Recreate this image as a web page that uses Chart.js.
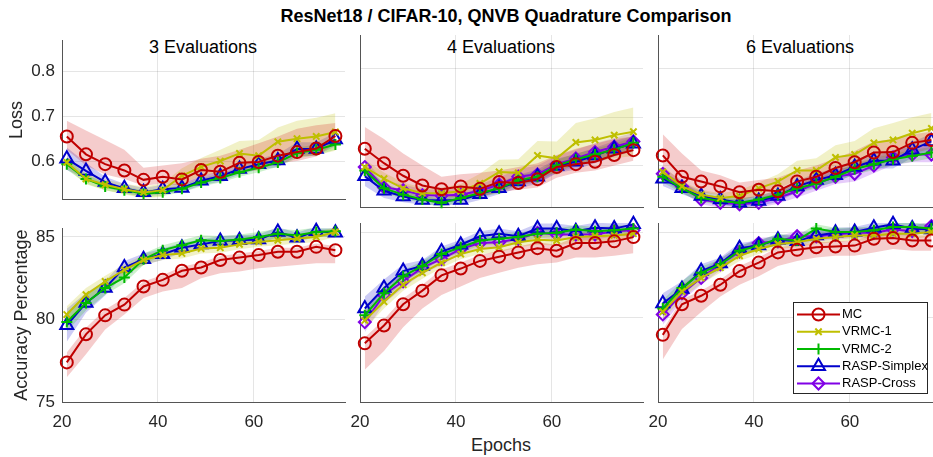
<!DOCTYPE html>
<html>
<head>
<style>
    body { margin: 0; width: 933px; height: 457px; overflow: hidden; background: #fff; position: relative; font-family: "Liberation Sans", Arial, sans-serif; }
    canvas { position: absolute; }
    .txt { position: absolute; white-space: nowrap; transform: translate(-50%, -50%); line-height: 1; color: #000; }
</style>
</head>
<body>
    <div class="txt" style="left:506px; top:16px; font-size:18px; font-weight:bold;">ResNet18 / CIFAR-10, QNVB Quadrature Comparison</div>
    <div class="txt" style="left:203px; top:47px; font-size:18px;">3 Evaluations</div>
    <div class="txt" style="left:501px; top:47px; font-size:18px;">4 Evaluations</div>
    <div class="txt" style="left:800px; top:47px; font-size:18px;">6 Evaluations</div>
    <div class="txt" style="left:501px; top:445px; font-size:18px; color:#262626;">Epochs</div>

    <canvas id="c0"></canvas>
    <canvas id="c1"></canvas>
    <canvas id="c2"></canvas>
    <canvas id="c3"></canvas>
    <canvas id="c4"></canvas>
    <canvas id="c5"></canvas>

    <script src="https://cdn.jsdelivr.net/npm/chart.js"></script>

    <script>
        const EPOCHS = [21, 25, 29, 33, 37, 41, 45, 49, 53, 57, 61, 65, 69, 73, 77]

        // 3 evaluations - loss
        const L3_MC = [0.655, 0.615, 0.593, 0.579, 0.558, 0.565, 0.559, 0.58, 0.576, 0.596, 0.598, 0.612, 0.62, 0.628, 0.656]
        const L3_MC_LO = [0.625, 0.59, 0.57, 0.56, 0.545, 0.55, 0.545, 0.56, 0.56, 0.575, 0.58, 0.595, 0.6, 0.61, 0.64]
        const L3_MC_HI = [0.69, 0.668, 0.647, 0.625, 0.585, 0.59, 0.595, 0.605, 0.612, 0.625, 0.64, 0.655, 0.672, 0.68, 0.685]
        const L3_V1 = [0.597, 0.56, 0.547, 0.537, 0.53, 0.535, 0.567, 0.587, 0.6, 0.617, 0.612, 0.643, 0.65, 0.655, 0.665]
        const L3_V1_SD = [0.012, 0.012, 0.012, 0.012, 0.013, 0.015, 0.017, 0.02, 0.025, 0.028, 0.035, 0.032, 0.04, 0.042, 0.042]
        const L3_V2 = [0.593, 0.56, 0.543, 0.535, 0.527, 0.53, 0.538, 0.552, 0.562, 0.575, 0.585, 0.597, 0.618, 0.625, 0.637]
        const L3_V2_SD = [0.012, 0.01, 0.008, 0.008, 0.008, 0.008, 0.008, 0.009, 0.01, 0.01, 0.01, 0.01, 0.012, 0.012, 0.012]
        const L3_RS = [0.605, 0.578, 0.553, 0.539, 0.53, 0.537, 0.54, 0.556, 0.566, 0.582, 0.593, 0.601, 0.627, 0.627, 0.648]
        const L3_RS_SD = [0.025, 0.018, 0.012, 0.01, 0.01, 0.01, 0.01, 0.01, 0.012, 0.012, 0.012, 0.015, 0.015, 0.015, 0.015]

        // 3 evaluations - accuracy
        const A3_MC = [77.4, 79.1, 80.25, 80.9, 82.0, 82.4, 82.95, 83.15, 83.6, 83.75, 83.9, 84.1, 84.1, 84.4, 84.2]
        const A3_MC_LO = [76.5, 77.9, 79.4, 80.3, 81.3, 81.7, 81.9, 82.5, 82.8, 82.9, 83.1, 83.2, 83.3, 83.4, 83.4]
        const A3_MC_HI = [78.0, 79.5, 80.6, 81.3, 82.3, 82.7, 83.2, 83.45, 83.85, 84.0, 84.15, 84.35, 84.35, 84.6, 84.45]
        const A3_V1 = [80.3, 81.5, 82.3, 83.0, 83.6, 83.9, 84.0, 84.3, 84.35, 84.55, 84.7, 84.8, 84.9, 85.0, 85.3]
        const A3_V1_SD = [0.5, 0.4, 0.35, 0.35, 0.3, 0.3, 0.3, 0.3, 0.3, 0.3, 0.3, 0.3, 0.3, 0.3, 0.3]
        const A3_V2 = [79.85, 81.0, 81.9, 82.55, 83.65, 84.2, 84.5, 84.8, 84.75, 84.85, 85.0, 85.2, 85.1, 85.3, 85.35]
        const A3_V2_SD = [0.6, 0.45, 0.4, 0.35, 0.35, 0.3, 0.3, 0.3, 0.3, 0.3, 0.3, 0.3, 0.3, 0.3, 0.3]
        const A3_RS = [79.65, 81.0, 81.9, 83.15, 83.65, 83.95, 84.35, 84.55, 84.75, 84.8, 84.85, 85.3, 84.95, 85.35, 85.25]
        const A3_RS_SD = [1.0, 0.6, 0.45, 0.4, 0.35, 0.35, 0.3, 0.3, 0.3, 0.3, 0.3, 0.3, 0.3, 0.3, 0.3]

        // 4 evaluations - loss
        const L4_MC = [0.635, 0.605, 0.579, 0.559, 0.551, 0.557, 0.552, 0.566, 0.564, 0.572, 0.597, 0.603, 0.608, 0.622, 0.632]
        const L4_MC_LO = [0.6, 0.575, 0.555, 0.54, 0.535, 0.535, 0.535, 0.545, 0.55, 0.555, 0.575, 0.585, 0.59, 0.6, 0.61]
        const L4_MC_HI = [0.68, 0.655, 0.625, 0.6, 0.577, 0.582, 0.585, 0.59, 0.597, 0.605, 0.622, 0.635, 0.645, 0.655, 0.66]
        const L4_V1 = [0.597, 0.573, 0.553, 0.543, 0.543, 0.547, 0.563, 0.587, 0.585, 0.621, 0.615, 0.648, 0.653, 0.663, 0.67]
        const L4_V1_SD = [0.015, 0.013, 0.012, 0.012, 0.012, 0.015, 0.02, 0.025, 0.028, 0.03, 0.035, 0.04, 0.045, 0.048, 0.05]
        const L4_V2 = [0.59, 0.553, 0.54, 0.53, 0.523, 0.533, 0.543, 0.553, 0.57, 0.577, 0.6, 0.613, 0.623, 0.633, 0.647]
        const L4_V2_SD = [0.012, 0.01, 0.008, 0.008, 0.008, 0.008, 0.009, 0.01, 0.01, 0.01, 0.012, 0.012, 0.012, 0.012, 0.012]
        const L4_RS = [0.578, 0.548, 0.536, 0.529, 0.528, 0.529, 0.541, 0.553, 0.567, 0.577, 0.599, 0.608, 0.621, 0.635, 0.645]
        const L4_RS_SD = [0.02, 0.015, 0.012, 0.01, 0.01, 0.01, 0.012, 0.012, 0.014, 0.015, 0.015, 0.016, 0.016, 0.016, 0.016]
        const L4_RC = [0.597, 0.555, 0.549, 0.539, 0.538, 0.54, 0.548, 0.561, 0.577, 0.582, 0.603, 0.615, 0.628, 0.639, 0.65]
        const L4_RC_SD = [0.015, 0.013, 0.012, 0.012, 0.012, 0.012, 0.013, 0.015, 0.016, 0.018, 0.018, 0.018, 0.018, 0.018, 0.018]

        // 4 evaluations - accuracy
        const A4_MC = [78.45, 79.5, 80.75, 81.55, 82.45, 82.85, 83.3, 83.55, 83.8, 84.05, 83.9, 84.35, 84.35, 84.45, 84.7]
        const A4_MC_LO = [76.9, 78.0, 79.4, 80.5, 81.3, 81.8, 82.3, 82.6, 82.9, 83.1, 83.2, 83.5, 83.5, 83.6, 83.75]
        const A4_MC_HI = [78.8, 79.85, 81.1, 81.9, 82.8, 83.2, 83.65, 83.9, 84.15, 84.4, 84.25, 84.7, 84.7, 84.8, 85.0]
        const A4_V1 = [79.8, 80.9, 81.9, 82.6, 83.2, 83.7, 84.0, 84.1, 84.4, 84.55, 84.5, 84.7, 84.75, 84.8, 84.9]
        const A4_V1_SD = [0.5, 0.4, 0.35, 0.35, 0.3, 0.3, 0.3, 0.3, 0.3, 0.3, 0.3, 0.3, 0.3, 0.3, 0.3]
        const A4_V2 = [80.1, 81.4, 82.4, 83.0, 83.7, 84.1, 84.5, 84.6, 84.7, 84.9, 84.95, 85.15, 85.05, 85.1, 85.2]
        const A4_V2_SD = [0.5, 0.4, 0.35, 0.3, 0.3, 0.3, 0.3, 0.3, 0.25, 0.25, 0.25, 0.25, 0.25, 0.25, 0.25]
        const A4_RS = [80.5, 81.7, 82.7, 83.0, 83.85, 84.25, 84.75, 84.9, 84.75, 85.2, 85.2, 85.05, 85.25, 85.2, 85.45]
        const A4_RS_SD = [0.7, 0.5, 0.4, 0.35, 0.3, 0.3, 0.3, 0.3, 0.3, 0.3, 0.3, 0.3, 0.3, 0.3, 0.3]
        const A4_RC = [79.7, 81.3, 82.1, 82.9, 83.4, 84.0, 84.35, 84.4, 84.6, 84.95, 84.85, 84.85, 84.85, 85.05, 85.1]
        const A4_RC_SD = [0.6, 0.5, 0.4, 0.35, 0.35, 0.3, 0.3, 0.3, 0.3, 0.3, 0.3, 0.3, 0.3, 0.3, 0.3]

        // 6 evaluations - loss
        const L6_MC = [0.621, 0.577, 0.567, 0.557, 0.545, 0.55, 0.547, 0.567, 0.577, 0.595, 0.607, 0.627, 0.628, 0.647, 0.653]
        const L6_MC_LO = [0.59, 0.555, 0.545, 0.54, 0.53, 0.535, 0.535, 0.55, 0.56, 0.575, 0.59, 0.605, 0.61, 0.625, 0.635]
        const L6_MC_HI = [0.665, 0.625, 0.59, 0.58, 0.565, 0.57, 0.575, 0.59, 0.6, 0.615, 0.63, 0.65, 0.655, 0.665, 0.67]
        const L6_V1 = [0.587, 0.557, 0.54, 0.533, 0.537, 0.553, 0.567, 0.59, 0.59, 0.617, 0.623, 0.647, 0.653, 0.667, 0.677]
        const L6_V1_SD = [0.012, 0.01, 0.01, 0.01, 0.012, 0.012, 0.015, 0.02, 0.025, 0.025, 0.028, 0.03, 0.035, 0.033, 0.032]
        const L6_V2 = [0.577, 0.553, 0.533, 0.527, 0.523, 0.53, 0.54, 0.553, 0.563, 0.577, 0.593, 0.603, 0.613, 0.62, 0.627]
        const L6_V2_SD = [0.012, 0.01, 0.009, 0.008, 0.008, 0.008, 0.009, 0.01, 0.01, 0.01, 0.012, 0.012, 0.012, 0.012, 0.012]
        const L6_RS = [0.573, 0.553, 0.537, 0.53, 0.523, 0.527, 0.537, 0.557, 0.57, 0.58, 0.597, 0.61, 0.61, 0.633, 0.65]
        const L6_RS_SD = [0.015, 0.012, 0.01, 0.01, 0.01, 0.01, 0.012, 0.012, 0.014, 0.015, 0.015, 0.016, 0.016, 0.016, 0.016]
        const L6_RC = [0.583, 0.557, 0.53, 0.523, 0.52, 0.523, 0.533, 0.547, 0.563, 0.577, 0.583, 0.6, 0.617, 0.623, 0.623]
        const L6_RC_SD = [0.013, 0.012, 0.01, 0.01, 0.01, 0.01, 0.012, 0.013, 0.015, 0.015, 0.016, 0.016, 0.016, 0.016, 0.016]

        // 6 evaluations - accuracy
        const A6_MC = [78.95, 80.75, 81.25, 81.9, 82.7, 83.2, 83.8, 83.95, 84.1, 84.15, 84.2, 84.6, 84.65, 84.5, 84.5]
        const A6_MC_LO = [77.5, 79.3, 80.3, 81.2, 81.9, 82.4, 83.0, 83.3, 83.5, 83.6, 83.6, 83.8, 84.0, 83.9, 83.9]
        const A6_MC_HI = [79.25, 81.05, 81.55, 82.2, 83.0, 83.5, 84.1, 84.25, 84.4, 84.45, 84.5, 84.9, 84.95, 84.8, 84.8]
        const A6_V1 = [80.3, 81.5, 82.3, 82.9, 83.6, 84.0, 84.3, 84.4, 84.6, 84.7, 84.8, 84.8, 84.9, 84.9, 85.0]
        const A6_V1_SD = [0.5, 0.4, 0.35, 0.3, 0.3, 0.3, 0.3, 0.3, 0.3, 0.3, 0.3, 0.3, 0.3, 0.3, 0.3]
        const A6_V2 = [80.5, 81.7, 82.6, 83.1, 83.9, 84.2, 84.6, 84.5, 85.2, 85.0, 85.0, 85.1, 85.3, 85.3, 85.2]
        const A6_V2_SD = [0.5, 0.4, 0.35, 0.3, 0.3, 0.3, 0.3, 0.3, 0.25, 0.25, 0.25, 0.25, 0.25, 0.25, 0.25]
        const A6_RS = [80.8, 81.65, 82.7, 83.15, 84.05, 84.2, 84.55, 84.45, 84.8, 84.95, 85.0, 85.25, 85.45, 85.2, 85.15]
        const A6_RS_SD = [0.6, 0.45, 0.4, 0.35, 0.3, 0.3, 0.3, 0.3, 0.3, 0.3, 0.3, 0.3, 0.3, 0.3, 0.3]
        const A6_RC = [80.15, 81.4, 82.3, 83.1, 83.85, 84.35, 84.45, 84.75, 84.75, 84.85, 84.95, 84.95, 85.15, 85.05, 85.35]
        const A6_RC_SD = [0.6, 0.45, 0.4, 0.35, 0.3, 0.3, 0.3, 0.3, 0.3, 0.3, 0.3, 0.3, 0.3, 0.3, 0.3]

        const LOSS_TICKS = { min: 0.5134, max: 0.87, step: 0.1 }
        const ACC_TICKS = { min: 75, max: 85.53, step: 5 }

        const SERIES_STYLE = {
            mc: { label: 'MC', color: 'rgb(192,0,0)', band: 'rgba(204,0,0,0.2)', marker: 'circle', radius: 6 },
            v1: { label: 'VRMC-1', color: 'rgb(191,191,0)', band: 'rgba(191,191,0,0.22)', marker: 'crossRot', radius: 4.5 },
            v2: { label: 'VRMC-2', color: 'rgb(0,185,0)', band: 'rgba(0,185,0,0.2)', marker: 'cross', radius: 5.5 },
            rs: { label: 'RASP-Simplex', color: 'rgb(0,0,204)', band: 'rgba(0,0,204,0.2)', marker: 'triangle', radius: 7.5 },
            rc: { label: 'RASP-Cross', color: 'rgb(128,0,230)', band: 'rgba(128,0,230,0.2)', marker: 'rectRot', radius: 6 }
        }

        const withSd = (mean, sd) => [mean.map((v, i) => v - sd[i]), mean.map((v, i) => v + sd[i])]

        const PANELS = [
            { id: 'c0', col: 0, row: 0, series: [['mc', L3_MC, [L3_MC_LO, L3_MC_HI]], ['v1', L3_V1, withSd(L3_V1, L3_V1_SD)], ['v2', L3_V2, withSd(L3_V2, L3_V2_SD)], ['rs', L3_RS, withSd(L3_RS, L3_RS_SD)]] },
            { id: 'c1', col: 1, row: 0, series: [['mc', L4_MC, [L4_MC_LO, L4_MC_HI]], ['v1', L4_V1, withSd(L4_V1, L4_V1_SD)], ['v2', L4_V2, withSd(L4_V2, L4_V2_SD)], ['rs', L4_RS, withSd(L4_RS, L4_RS_SD)], ['rc', L4_RC, withSd(L4_RC, L4_RC_SD)]] },
            { id: 'c2', col: 2, row: 0, series: [['mc', L6_MC, [L6_MC_LO, L6_MC_HI]], ['v1', L6_V1, withSd(L6_V1, L6_V1_SD)], ['v2', L6_V2, withSd(L6_V2, L6_V2_SD)], ['rs', L6_RS, withSd(L6_RS, L6_RS_SD)], ['rc', L6_RC, withSd(L6_RC, L6_RC_SD)]] },
            { id: 'c3', col: 0, row: 1, series: [['mc', A3_MC, [A3_MC_LO, A3_MC_HI]], ['v1', A3_V1, withSd(A3_V1, A3_V1_SD)], ['v2', A3_V2, withSd(A3_V2, A3_V2_SD)], ['rs', A3_RS, withSd(A3_RS, A3_RS_SD)]] },
            { id: 'c4', col: 1, row: 1, series: [['mc', A4_MC, [A4_MC_LO, A4_MC_HI]], ['v1', A4_V1, withSd(A4_V1, A4_V1_SD)], ['v2', A4_V2, withSd(A4_V2, A4_V2_SD)], ['rs', A4_RS, withSd(A4_RS, A4_RS_SD)], ['rc', A4_RC, withSd(A4_RC, A4_RC_SD)]] },
            { id: 'c5', col: 2, row: 1, series: [['mc', A6_MC, [A6_MC_LO, A6_MC_HI]], ['v1', A6_V1, withSd(A6_V1, A6_V1_SD)], ['v2', A6_V2, withSd(A6_V2, A6_V2_SD)], ['rs', A6_RS, withSd(A6_RS, A6_RS_SD)], ['rc', A6_RC, withSd(A6_RC, A6_RC_SD)]], legend: true }
        ]

        // layout of the axes boxes in page pixels
        const COL_LEFT = [62, 360, 658]
        const ROW_TOP = [35, 223]
        const ROW_H = [178, 179]
        const PLOT_W = 283
        const Y_AXIS_W = 62
        const PAD_TOP = 12
        const PAD_RIGHT = 14
        const X_AXIS_H = [4, 40]

        const FONT = '"Liberation Sans", Arial, Helvetica, sans-serif'
        const TEXT_COLOR = '#262626'
        Chart.defaults.font.family = FONT

        const toPoints = (values) => EPOCHS.map((e, i) => ({ x: e, y: values[i] }))

        const boxLegend = {
            id: 'boxLegend',
            afterDatasetsDraw(chart, args, opts) {
                if (!opts.show) return
                const { ctx, chartArea } = chart
                const x0 = chartArea.left + 135
                const y0 = chartArea.top + 79
                const w = 134
                const h = 91
                ctx.save()
                ctx.fillStyle = '#fff'
                ctx.fillRect(x0, y0, w, h)
                ctx.strokeStyle = '#262626'
                ctx.lineWidth = 1
                ctx.strokeRect(x0 + 0.5, y0 + 0.5, w, h)
                Object.values(SERIES_STYLE).forEach((s, i) => {
                    const y = y0 + 12.5 + i * 17.25
                    ctx.strokeStyle = s.color
                    ctx.lineWidth = 2
                    ctx.beginPath()
                    ctx.moveTo(x0 + 4, y)
                    ctx.lineTo(x0 + 47, y)
                    ctx.stroke()
                    ctx.fillStyle = 'rgba(0,0,0,0)'
                    Chart.helpers.drawPoint(ctx, { pointStyle: s.marker, radius: s.radius, rotation: 0, borderWidth: 2 }, x0 + 25.5, y)
                    ctx.fillStyle = '#000'
                    ctx.font = '13px ' + FONT
                    ctx.textBaseline = 'middle'
                    ctx.textAlign = 'left'
                    ctx.fillText(s.label, x0 + 49, y)
                })
                ctx.restore()
            }
        }

        PANELS.forEach((panel) => {
            const canvas = document.getElementById(panel.id)
            const width = Y_AXIS_W + PLOT_W + PAD_RIGHT
            const height = PAD_TOP + ROW_H[panel.row] + X_AXIS_H[panel.row]
            canvas.width = width
            canvas.height = height
            canvas.style.left = (COL_LEFT[panel.col] - Y_AXIS_W) + 'px'
            canvas.style.top = (ROW_TOP[panel.row] - PAD_TOP) + 'px'
            canvas.style.width = width + 'px'
            canvas.style.height = height + 'px'

            const dataSets = []
            panel.series.forEach(([key, mean, band]) => {
                const style = SERIES_STYLE[key]
                dataSets.push({
                    data: toPoints(band[1]), borderColor: 'rgba(0,0,0,0)', borderWidth: 0,
                    pointRadius: 0, fill: false
                })
                dataSets.push({
                    data: toPoints(band[0]), borderColor: 'rgba(0,0,0,0)', borderWidth: 0,
                    pointRadius: 0, fill: '-1', backgroundColor: style.band
                })
            })
            panel.series.forEach(([key, mean]) => {
                const style = SERIES_STYLE[key]
                dataSets.push({
                    label: style.label,
                    data: toPoints(mean),
                    borderColor: style.color,
                    borderWidth: 2,
                    pointStyle: style.marker,
                    pointRadius: style.radius,
                    pointBorderColor: style.color,
                    pointBackgroundColor: 'rgba(0,0,0,0)',
                    pointBorderWidth: 2,
                    fill: false,
                    clip: false
                })
            })

            const isLoss = panel.row === 0
            const yr = isLoss ? LOSS_TICKS : ACC_TICKS
            const grid = { color: 'rgba(0,0,0,0.1)', drawTicks: false }
            const border = { color: '#555', width: 1 }

            new Chart(canvas.getContext('2d'), {
                type: 'line',
                data: { datasets: dataSets },
                plugins: [boxLegend],
                options: {
                    responsive: false,
                    animation: false,
                    devicePixelRatio: 1,
                    events: [],
                    layout: { padding: { top: PAD_TOP, right: PAD_RIGHT, left: 0, bottom: 0 } },
                    plugins: {
                        legend: { display: false },
                        tooltip: { enabled: false },
                        filler: { drawTime: 'beforeDatasetsDraw' },
                        boxLegend: { show: !!panel.legend }
                    },
                    scales: {
                        x: {
                            type: 'linear', min: 20, max: 79,
                            ticks: { display: !isLoss, stepSize: 20, includeBounds: false, padding: 10, maxRotation: 0, color: TEXT_COLOR, font: { size: 17 } },
                            grid: grid,
                            border: border,
                            afterFit: (s) => { s.height = X_AXIS_H[panel.row] }
                        },
                        y: {
                            min: yr.min, max: yr.max,
                            ticks: { display: panel.col === 0, stepSize: yr.step, includeBounds: false, padding: 7, color: TEXT_COLOR, font: { size: 17 } },
                            title: {
                                display: panel.col === 0,
                                text: isLoss ? 'Loss' : 'Accuracy Percentage',
                                color: TEXT_COLOR,
                                font: { size: 18 },
                                padding: { top: isLoss ? 6 : 11, bottom: 0 }
                            },
                            grid: grid,
                            border: border,
                            afterFit: (s) => { s.width = Y_AXIS_W }
                        }
                    }
                }
            })
        })
    </script>
</body>
</html>
